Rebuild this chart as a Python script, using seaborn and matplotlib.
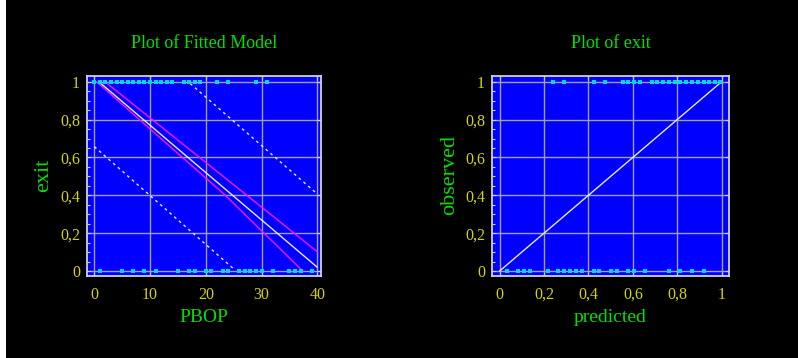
import numpy as np
import pandas as pd
import matplotlib
matplotlib.use("Agg")
import matplotlib.pyplot as plt
from matplotlib.ticker import MultipleLocator, FixedLocator, FuncFormatter
from matplotlib.patches import Rectangle
import seaborn as sns

# Observations: PBOP for cases with exit = 1 and exit = 0
pbop_exit1 = [0, 1, 2, 3, 4, 5, 6, 7, 8, 9, 10, 11, 12, 13, 14, 16, 17, 18, 19, 22, 24, 29, 31]
pbop_exit0 = [1, 5, 7, 9, 11, 15, 17, 18, 20, 21, 23, 24, 26, 27, 28, 29, 30, 32, 35, 36, 37, 39]

# Fitted linear model with confidence limits (magenta) and prediction limits (dashed)
fit_x = [1, 40]
fit_y = [0.995, 0.02]
conf_hi_x = [1.9, 40]
conf_hi_y = [1.0, 0.102]
conf_lo_x = [0.4, 23.5, 37.4]
conf_lo_y = [1.0, 0.40, 0.0]
pred_hi_x = [17.2, 40]
pred_hi_y = [0.99, 0.407]
pred_lo_x = [0.0, 25.1]
pred_lo_y = [0.657, 0.009]

# Predicted probabilities against observed outcome
predicted_exit1 = [0.240, 0.292, 0.425, 0.475, 0.555, 0.580, 0.605, 0.632, 0.687, 0.711,
                   0.736, 0.763, 0.789, 0.814, 0.841, 0.866, 0.894, 0.919, 0.943, 0.969, 0.991]
predicted_exit0 = [0.033, 0.083, 0.108, 0.135, 0.216, 0.265, 0.292, 0.317, 0.344, 0.370,
                   0.425, 0.449, 0.502, 0.527, 0.579, 0.605, 0.654, 0.763, 0.814, 0.867, 0.921]
diag = [0.0, 1.0]

left_xticks = [0, 10, 20, 30, 40]
right_xticks = [0, 0.2, 0.4, 0.6, 0.8, 1.0]
yticks = [0, 0.2, 0.4, 0.6, 0.8, 1.0]

sns.set_theme(style="dark")
plt.rcParams["font.family"] = ["Liberation Serif", "DejaVu Serif"]

BLUE = "#0000ff"
GRID = "#a0a0b8"
CYAN = "#00d8ec"
YELLOW = "#d4d400"
GREEN = "#00e000"
LINE = "#e8e8ff"
MAGENTA = "#ff10ff"

fig = plt.figure(figsize=(7.98, 3.58), dpi=100, facecolor="black")
W, H = 798, 358


def px_axes(x0, y0, x1, y1):
    return fig.add_axes([x0 / W, 1 - y1 / H, (x1 - x0) / W, (y1 - y0) / H])


ax1 = px_axes(87, 76, 321, 276)
ax2 = px_axes(492, 76, 729, 276)

fmt = FuncFormatter(lambda v, p: ("%g" % round(v, 2)).replace(".", ","))

obs1 = pd.DataFrame({"PBOP": pbop_exit1 + pbop_exit0,
                     "exit": [1] * len(pbop_exit1) + [0] * len(pbop_exit0)})
obs2 = pd.DataFrame({"predicted": predicted_exit1 + predicted_exit0,
                     "observed": [1] * len(predicted_exit1) + [0] * len(predicted_exit0)})


def style(ax, xlim, xticks):
    ax.set_facecolor(BLUE)
    ax.set_xlim(*xlim)
    ax.set_ylim(-0.026, 1.03)
    ax.xaxis.set_major_locator(FixedLocator(xticks))
    ax.yaxis.set_major_locator(FixedLocator(yticks))
    ax.yaxis.set_minor_locator(MultipleLocator(0.05))
    ax.xaxis.set_major_formatter(fmt)
    ax.yaxis.set_major_formatter(fmt)
    ax.grid(True, which="major", color=GRID, linewidth=1.0)
    ax.set_axisbelow(True)
    for s in ax.spines.values():
        s.set_visible(True)
        s.set_color("#d0d0e0")
        s.set_linewidth(1.3)
    ax.tick_params(which="both", direction="in", colors="#d0d0e0",
                   top=True, right=True, bottom=True, left=True)
    ax.tick_params(which="major", length=3, width=0.8)
    ax.tick_params(which="minor", length=2, width=0.8, right=False, top=False)
    ax.tick_params(axis="both", which="major", labelcolor=YELLOW, labelsize=11.5)
    ax.tick_params(axis="x", which="major", pad=8)
    ax.tick_params(axis="y", which="major", pad=5)


# Left panel: fitted model
style(ax1, (-1.31, 40.66), left_xticks)
sns.lineplot(x=pred_hi_x, y=pred_hi_y, ax=ax1, color=LINE, linewidth=1.0,
             linestyle=(0, (2, 2.5)))
sns.lineplot(x=pred_lo_x, y=pred_lo_y, ax=ax1, color=LINE, linewidth=1.0,
             linestyle=(0, (2, 2.5)))
sns.lineplot(x=conf_hi_x, y=conf_hi_y, ax=ax1, color=MAGENTA, linewidth=1.0)
sns.lineplot(x=conf_lo_x, y=conf_lo_y, ax=ax1, color=MAGENTA, linewidth=1.0)
sns.lineplot(x=fit_x, y=fit_y, ax=ax1, color=LINE, linewidth=1.0)
sns.scatterplot(data=obs1, x="PBOP", y="exit", ax=ax1, marker="s", s=10,
                color=CYAN, linewidth=0, zorder=5)
ax1.set_title("Plot of Fitted Model", color=GREEN, fontsize=13, pad=20)
ax1.set_xlabel("PBOP", color=GREEN, fontsize=14)
ax1.set_ylabel("exit", color=GREEN, fontsize=16)

# Right panel: observed versus predicted
style(ax2, (-0.034, 1.033), right_xticks)
sns.lineplot(x=diag, y=diag, ax=ax2, color=LINE, linewidth=1.0)
sns.scatterplot(data=obs2, x="predicted", y="observed", ax=ax2, marker="s", s=10,
                color=CYAN, linewidth=0, zorder=5)
ax2.set_title("Plot of exit", color=GREEN, fontsize=13, pad=20)
ax2.set_xlabel("predicted", color=GREEN, fontsize=14)
ax2.set_ylabel("observed", color=GREEN, fontsize=16)

for ax in (ax1, ax2):
    ax.xaxis.set_label_coords(0.5, -0.165)
ax1.yaxis.set_label_coords(-0.145, 0.505)
ax2.yaxis.set_label_coords(-0.138, 0.505)

# thin white margin along the left edge
fig.patches.append(Rectangle((0, 0), 6 / W, 1, transform=fig.transFigure,
                             facecolor="white", edgecolor="none", zorder=0))

fig.savefig("out.png", dpi=100, facecolor="black")
